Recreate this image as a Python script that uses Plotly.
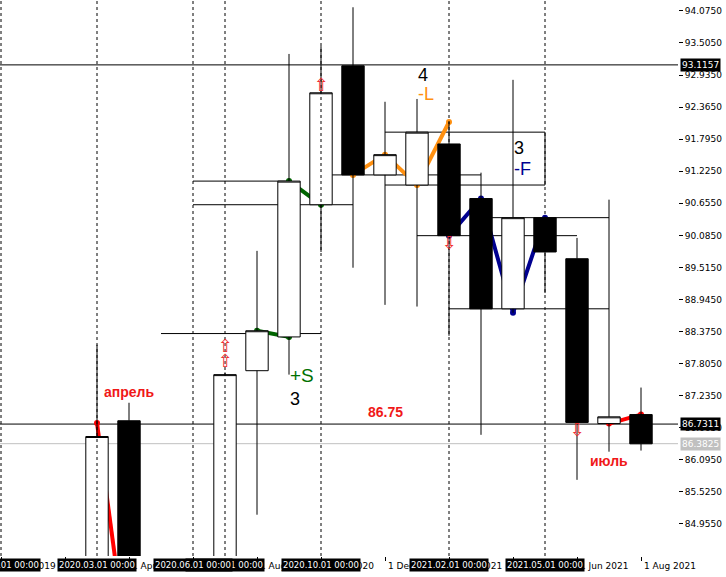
import pandas as pd
import plotly.graph_objects as go

# monthly bars, one slot per month on an evenly spaced axis
months = [str(m) for m in pd.period_range("2019-12", "2021-08", freq="M")]

candle_month = ["2020-03", "2020-04", "2020-05", "2020-06", "2020-07", "2020-08",
                "2020-09", "2020-10", "2020-11", "2020-12", "2021-01", "2021-02",
                "2021-03", "2021-04", "2021-05", "2021-06", "2021-07", "2021-08"]
open_ = [83.90, 86.79, 83.00, 83.40, 84.10, 87.68, 88.28, 90.63, 93.10,
         91.16, 90.98, 91.71, 90.74, 88.78, 90.40, 89.67, 86.74, 86.90]
high = [88.14, 87.11, 84.20, 84.30, 87.65, 89.81, 93.31, 93.45, 94.14,
        92.46, 92.51, 92.10, 91.20, 92.85, 90.42, 90.04, 90.72, 87.38]
low = [83.60, 82.70, 82.60, 83.10, 83.90, 85.12, 87.61, 89.79, 89.51,
       88.85, 88.82, 88.30, 86.54, 88.71, 89.06, 85.74, 86.24, 86.26]
close = [86.51, 83.00, 83.40, 84.10, 87.61, 88.39, 91.05, 92.62, 91.16,
         91.52, 91.92, 90.08, 88.78, 90.40, 89.79, 86.76, 86.86, 86.38]

# coloured swing lines (month, price)
green_pts = [("2020-08", 88.39), ("2020-09", 88.28), ("2020-09", 91.05), ("2020-10", 90.63)]
orange_pts = [("2020-11", 91.16), ("2020-12", 91.52), ("2021-01", 90.98), ("2021-02", 92.10)]
navy_pts = [("2021-02", 90.08), ("2021-03", 90.74), ("2021-04", 88.71), ("2021-05", 90.40)]
red_pts_a = [("2020-03", 86.75), ("2020-04", 82.50)]
red_pts_b = [("2021-07", 86.74), ("2021-08", 86.90)]

# horizontal level segments (from month, to month, price)
levels = [("2020-06", "2020-09", 91.05), ("2020-06", "2020-11", 90.63),
          ("2020-05", "2020-10", 88.34), ("2020-10", "2021-03", 91.16),
          ("2020-12", "2021-05", 91.92), ("2020-12", "2021-05", 90.98),
          ("2021-01", "2021-06", 90.08), ("2021-03", "2021-07", 90.40),
          ("2021-02", "2021-07", 88.78)]
box_edges = [("2021-05", 91.92, 90.98)]

hlines = [93.1157, 86.7311]
bid = 86.3825

marked_months = ["2019-12", "2020-03", "2020-07", "2020-06", "2020-10", "2021-02", "2021-05"]

up_arrows = [("2020-07", 88.12), ("2020-07", 87.86), ("2020-10", 92.76)]
down_arrows = [("2021-02", 89.95), ("2021-06", 86.63)]

labels = [  # text, month, price, colour, size, bold, anchor
    ("апрель", "2020-04", 87.30, "#F01818", 14, True, "center"),
    ("86.75", "2020-12", 86.95, "#F01818", 14, True, "center"),
    ("июль", "2021-07", 86.08, "#F01818", 14, True, "center"),
    ("+S", "2020-09", 87.59, "#007000", 19, False, "left"),
    ("3", "2020-09", 87.18, "black", 18, False, "left"),
    ("4", "2021-01", 92.94, "black", 18, False, "left"),
    ("-L", "2021-01", 92.60, "#FF9010", 18, False, "left"),
    ("3", "2021-04", 91.64, "black", 18, False, "left"),
    ("-F", "2021-04", 91.27, "#000090", 18, False, "left"),
]

yticks = [round(84.955 + 0.57 * k, 4) for k in range(17)]

ix = {m: i for i, m in enumerate(months)}
fig = go.Figure()

lx, ly = [], []
for a, b, p in levels:
    lx += [ix[a], ix[b], None]
    ly += [p, p, None]
for m, p1, p2 in box_edges:
    lx += [ix[m], ix[m], None]
    ly += [p1, p2, None]
fig.add_trace(go.Scatter(x=lx, y=ly, mode="lines", line=dict(color="black", width=1),
                         zorder=-1, hoverinfo="skip"))

for pts, col in [(green_pts, "#006400"), (orange_pts, "#FF9010"), (navy_pts, "#000090"),
                 (red_pts_a, "#FF0000"), (red_pts_b, "#FF0000")]:
    fig.add_trace(go.Scatter(x=[ix[m] for m, _ in pts], y=[p for _, p in pts],
                             mode="lines+markers", line=dict(color=col, width=4),
                             marker=dict(color=col, size=6), zorder=0, hoverinfo="skip"))

fig.add_trace(go.Candlestick(
    x=[ix[m] for m in candle_month], open=open_, high=high, low=low, close=close,
    increasing=dict(fillcolor="white", line=dict(color="black", width=1)),
    decreasing=dict(fillcolor="black", line=dict(color="black", width=1)),
    zorder=1, hoverinfo="skip"))

shapes = []
for m in marked_months:
    shapes.append(dict(type="line", xref="x", yref="paper", x0=ix[m], x1=ix[m], y0=0, y1=1,
                       line=dict(color="black", width=1, dash="3px,3px"), layer="above"))
for p in hlines:
    shapes.append(dict(type="line", xref="paper", yref="y", x0=0, x1=1, y0=p, y1=p,
                       line=dict(color="black", width=1), layer="below"))
shapes.append(dict(type="line", xref="paper", yref="y", x0=0, x1=1, y0=bid, y1=bid,
                   line=dict(color="#C0C0C0", width=1), layer="below"))

ann = []
for text, m, p, col, size, bold, anchor in labels:
    ann.append(dict(x=ix[m], y=p, xref="x", yref="y", text=f"<b>{text}</b>" if bold else text,
                    showarrow=False, xanchor=anchor, xshift=-1 if anchor == "left" else 0,
                    font=dict(family="Liberation Sans, Arial", size=size, color=col)))
for m, p in up_arrows:
    ann.append(dict(x=ix[m], y=p, text="⇧", showarrow=False,
                    font=dict(family="DejaVu Sans", size=18, color="#F03030")))
for m, p in down_arrows:
    ann.append(dict(x=ix[m], y=p, text="⇩", showarrow=False,
                    font=dict(family="DejaVu Sans", size=18, color="#F03030")))

# regular date labels every two months, left aligned at the bar
for i in range(0, len(months), 2):
    ts = pd.Period(months[i]).to_timestamp()
    ann.append(dict(x=i, y=0, xref="x", yref="paper", yanchor="top", xanchor="left",
                    yshift=-3, xshift=1, text=f"1 {ts.strftime('%b %Y')}", showarrow=False,
                    font=dict(family="DejaVu Sans", size=9, color="black")))
# highlighted date labels under the dashed lines
for m in marked_months:
    ts = pd.Period(m).to_timestamp()
    ann.append(dict(x=ix[m], y=0, xref="x", yref="paper", yanchor="top", xanchor="center",
                    yshift=-2, text=ts.strftime("%Y.%m.%d 00:00"), showarrow=False,
                    bgcolor="black", borderpad=1,
                    font=dict(family="DejaVu Sans", size=8.5, color="white")))
# price labels on the right scale
for p, bg in [(hlines[0], "black"), (hlines[1], "black"), (bid, "#C0C0C0")]:
    ann.append(dict(x=1, y=p, xref="paper", yref="y", xanchor="left", xshift=2,
                    text=f"{p:.4f}", showarrow=False, bgcolor=bg, borderpad=1,
                    font=dict(family="DejaVu Sans", size=9, color="white")))

fig.update_layout(
    width=726, height=577, margin=dict(l=0, r=48, t=0, b=21),
    plot_bgcolor="white", paper_bgcolor="white", showlegend=False,
    boxgap=0.3, boxgroupgap=0, shapes=shapes, annotations=ann,
    xaxis=dict(range=[-1 / 32, 677 / 32], rangeslider=dict(visible=False),
               showgrid=False, zeroline=False, showline=True, linecolor="black",
               tickvals=list(range(0, len(months), 2)), showticklabels=False,
               ticks="outside", ticklen=4, tickcolor="black"),
    yaxis=dict(range=[84.386, 94.269], side="right", showgrid=False, zeroline=False,
               showline=True, linecolor="black", tickvals=yticks,
               ticktext=[f"{v:.4f}" for v in yticks], ticks="outside", ticklen=4,
               tickcolor="black", tickfont=dict(family="DejaVu Sans", size=9, color="black")),
)

fig.write_html("out.html", config={"displayModeBar": False},
               post_script="document.body.style.margin='0';")
